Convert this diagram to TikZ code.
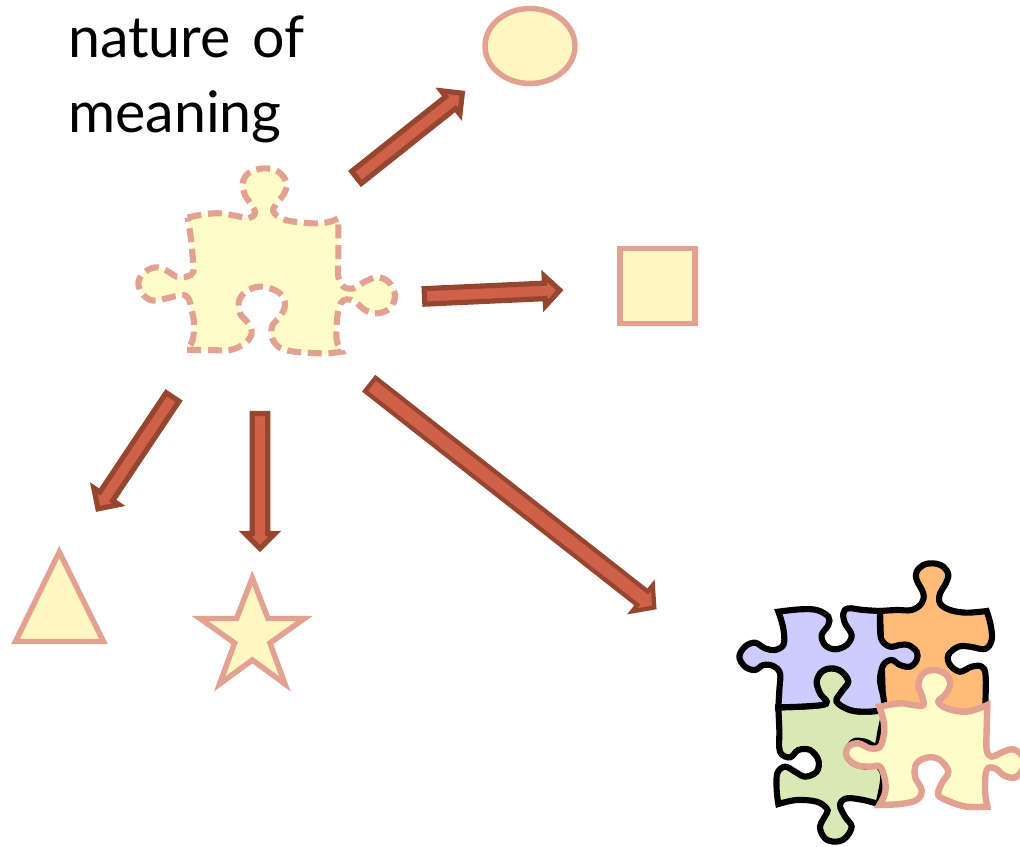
\documentclass[tikz,border=0pt]{standalone}
\usepackage{fontspec}
\setmainfont{Lato}
\usetikzlibrary{calc}
\definecolor{shapefill}{HTML}{FFF6C1}
\definecolor{pinkline}{HTML}{E3A191}
\definecolor{arrowfill}{HTML}{CF6148}
\definecolor{arrowline}{HTML}{96452F}
\definecolor{piecefill}{HTML}{FFFCC8}
\definecolor{bluefill}{HTML}{CCCCFF}
\definecolor{orangefill}{HTML}{FFBB77}
\definecolor{greenfill}{HTML}{D9E9B5}
\tikzset{
  shapeitem/.style={draw=pinkline,fill=shapefill,line width=4.1pt,line join=miter},
  blockarrow/.style={draw=arrowline,fill=arrowfill,line join=miter},
  dashedpiece/.style={draw=pinkline,fill=piecefill,line width=4.6pt,dash pattern=on 10.5pt off 5pt},
  blackpiece/.style={draw=black,line width=4.6pt,line join=miter},
  pinkpiece/.style={draw=pinkline,fill=piecefill,line width=4.8pt,line join=miter},
  titletext/.style={anchor=base west,inner sep=0pt,font=\fontsize{43pt}{43pt}\selectfont},
  sm/.style={smooth,tension=.6}
}
% stroke, shaft half width, head half width, from, to
\newcommand{\blockarr}[5]{%
  \coordinate (h) at ($(#5)!11.25pt!(#4)$);
  \draw[blockarrow,line width=#1] ($(#4)!#2!90:(#5)$) -- ($(h)!#2!-90:(#4)$) -- ($(h)!#3!-90:(#4)$) -- (#5)
    -- ($(h)!#3!90:(#4)$) -- ($(h)!#2!90:(#4)$) -- ($(#4)!#2!-90:(#5)$) -- cycle;}
\newcommand{\pieceoutline}{%
  plot[sm] coordinates {(203,203)(250,193)(300,190)(350,198)(385,205)(405,190)(395,165)(375,135)(368,100)(385,70)(430,55)(475,65)(500,100)(490,135)(470,160)(460,185)(490,208)(540,217)(590,220)(630,215)(655,205)}
  -- plot[sm] coordinates {(655,205)(655,260)(655,330)(655,380)(670,410)(700,415)(735,395)(770,382)(805,395)(825,435)(810,475)(770,490)(735,480)(705,455)(680,448)(662,460)(652,500)(650,570)(665,605)}
  -- plot[sm] coordinates {(665,605)(620,610)(560,608)(510,603)(475,590)(455,560)(458,525)(480,500)(495,465)(480,430)(430,410)(385,420)(358,450)(360,490)(385,520)(395,550)(375,580)(330,600)(270,600)(200,600)}
  -- plot[sm] coordinates {(200,600)(218,570)(222,520)(215,480)(205,445)(185,435)(140,445)(100,452)(70,435)(55,400)(70,370)(105,352)(140,362)(170,380)(200,380)(220,365)(218,320)(212,260)(203,203)}
  -- cycle}
\begin{document}
\begin{tikzpicture}[x=.75pt,y=-.75pt]
\useasboundingbox (0,0) rectangle (1020,846);
% title
\node[titletext] (line1) at (68,57) {nature\hspace{5pt} of};
\node[titletext] (line2) at (68,132) {meaning};
% outcome shapes
\draw[shapeitem] (530,46) ellipse [x radius=45,y radius=37.5];
\draw[shapeitem] (620,248.5) rectangle (695,323.5);
\draw[shapeitem] (59.3,552) -- (103.5,641.5) -- (15.5,641.5) -- cycle;
\draw[shapeitem] (252.3,578) -- (268,618.5) -- (304.5,618.5) -- (270,643) -- (285,684) -- (252.3,660) -- (219.6,684) -- (234.6,643) -- (200,618.5) -- (236.6,618.5) -- cycle;
% dashed piece
\begin{scope}[shift={(120,150)},x=.25pt,y=-.25pt]
\draw[dashedpiece] \pieceoutline;
\end{scope}
% arrows
\coordinate (a1) at (356.5,177.4); \coordinate (b1) at (462.3,93.2);
\coordinate (a2) at (424.5,296.4); \coordinate (b2) at (559.8,290.2);
\coordinate (a3) at (172.6,397);   \coordinate (b3) at (98,508.8);
\coordinate (a4) at (260,413.5);   \coordinate (b4) at (260,548.5);
\coordinate (a5) at (370.3,384.5); \coordinate (b5) at (654.3,607.5);
\blockarr{3.9pt}{5.8pt}{11.25pt}{a1}{b1}
\blockarr{3.9pt}{5.8pt}{11.25pt}{a2}{b2}
\blockarr{3.9pt}{5.8pt}{11.25pt}{a3}{b3}
\blockarr{3.9pt}{5.8pt}{11.25pt}{a4}{b4}
\blockarr{3.2pt}{6.4pt}{12.5pt}{a5}{b5}
% assembled puzzle
\begin{scope}[shift={(720,550)},x=.25pt,y=-.25pt]
\draw[blackpiece,fill=greenfill]
  plot[sm] coordinates {(175,472)(240,470)(305,465)(320,455)(300,430)(290,395)(305,365)(335,355)(365,365)(385,395)(365,425)(350,455)(390,480)(440,485)(495,480)}
  -- plot[sm] coordinates {(495,480)(482,540)(470,588)(435,575)(400,575)(380,610)(400,640)(440,650)(470,645)(490,680)(475,762)}
  -- plot[sm] coordinates {(475,762)(430,750)(380,745)(360,765)(375,800)(395,830)(375,865)(345,875)(315,865)(300,830)(320,790)(320,775)(290,755)(230,750)(175,762)}
  -- plot[sm] coordinates {(175,762)(170,720)(172,670)(195,650)(225,665)(255,680)(290,665)(295,630)(270,600)(235,600)(210,622)(180,605)(178,540)(175,472)} -- cycle;
\draw[blackpiece,fill=orangefill]
  plot[sm] coordinates {(480,183)(530,180)(575,180)(605,160)(610,130)(590,90)(590,65)(610,45)(640,40)(670,50)(685,75)(675,105)(660,130)(660,160)(690,180)(740,188)(800,183)}
  -- plot[sm] coordinates {(800,183)(812,225)(815,270)(795,297)(750,290)(715,290)(685,315)(690,345)(720,365)(755,350)(785,350)(797,380)(795,490)}
  -- (490,490) -- cycle;
\draw[blackpiece,fill=bluefill]
  plot[sm] coordinates {(175,185)(240,178)(290,180)(325,200)(325,225)(305,255)(315,285)(345,298)(380,285)(395,255)(375,220)(370,190)(385,175)(430,180)(480,183)}
  -- plot[sm] coordinates {(480,183)(480,230)(485,270)(510,290)(540,285)(565,285)(590,305)(590,330)(570,350)(540,345)(515,330)(490,345)(480,390)(490,440)(495,480)}
  -- plot[sm] coordinates {(495,480)(440,485)(390,480)(350,455)(365,425)(385,395)(365,365)(335,355)(305,365)(290,395)(300,430)(320,455)(305,465)(240,470)(175,472)}
  -- plot[sm] coordinates {(175,472)(178,420)(180,370)(160,348)(130,345)(105,360)(75,350)(58,320)(75,290)(105,278)(135,295)(165,300)(190,285)(192,250)(185,215)(175,185)} -- cycle;
\draw[pinkpiece]
  plot[sm] coordinates {(478,470)(540,460)(580,465)(610,465)(605,435)(595,405)(610,370)(645,360)(680,375)(690,405)(675,435)(655,455)(680,475)(740,485)(802,465)}
  -- plot[sm] coordinates {(802,465)(800,540)(800,600)(815,620)(850,605)(880,598)(905,615)(915,640)(890,680)(855,678)(825,655)(800,660)(795,720)(802,770)}
  -- plot[sm] coordinates {(802,770)(740,770)(690,755)(655,735)(665,700)(685,665)(660,630)(625,622)(590,640)(585,680)(605,720)(590,750)(540,762)(478,765)}
  -- plot[sm] coordinates {(478,765)(495,730)(495,690)(480,650)(450,650)(410,645)(380,620)(385,590)(415,580)(450,595)(480,590)(492,550)(490,510)(478,470)} -- cycle;
\end{scope}
\end{tikzpicture}
\end{document}
